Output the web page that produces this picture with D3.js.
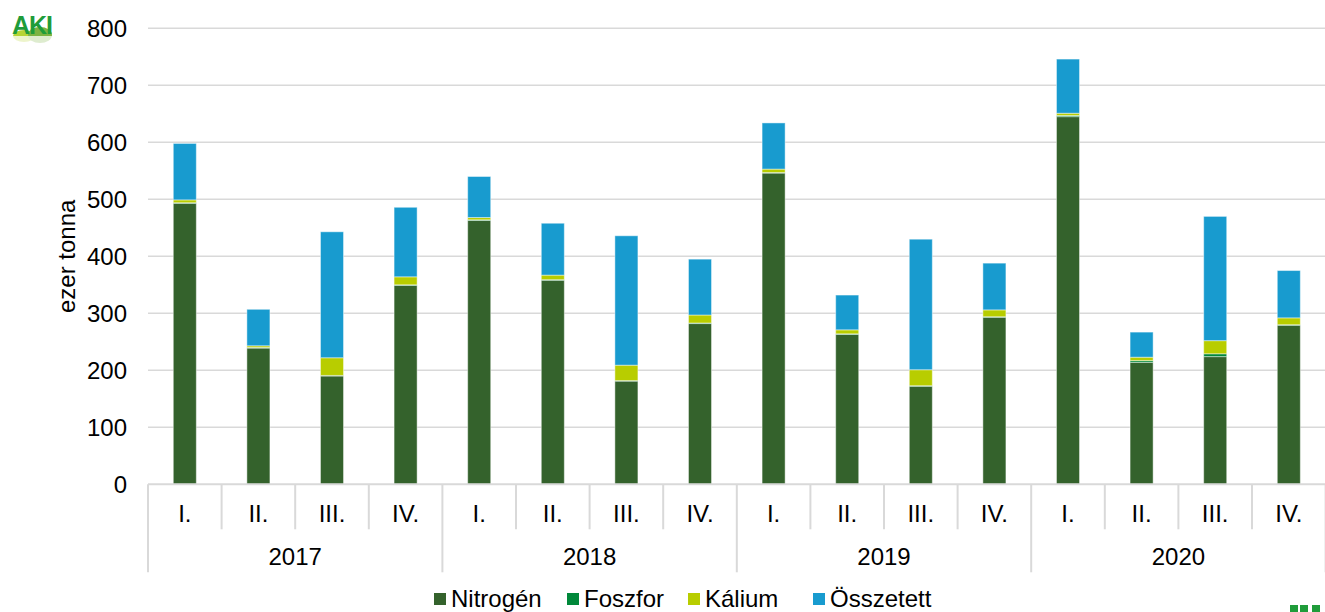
<!DOCTYPE html>
<html>
<head>
<meta charset="utf-8">
<script src="https://cdn.jsdelivr.net/npm/d3@7"></script>
<style>
  body { margin: 0; background: #fff; }
  svg { display: block; font-family: Arial, 'Liberation Sans', sans-serif; }
  .grid line { stroke: #d9d9d9; stroke-width: 1.5; }
  .axis-text { font-size: 24px; fill: #000; }
</style>
</head>
<body>
<div id="chart"></div>
<script>
// quarters and years on the category axis
const years = ['2017', '2018', '2019', '2020'];
const quarters = ['I.', 'II.', 'III.', 'IV.'];

// ezer tonna, one value per quarter 2017 I. .. 2020 IV.
const nitrogen = [493, 239, 190, 349, 463, 358, 181, 282, 546, 263, 172, 293, 645, 214, 224, 279];
const phosphorus = [1, 1, 1, 1, 1, 1, 1, 1, 1, 1, 1, 1, 2, 3, 5, 1];
const potassium = [5, 3, 31, 14, 4, 8, 27, 14, 6, 7, 28, 12, 4, 6, 23, 12];
const compound = [99, 64, 221, 122, 72, 91, 227, 98, 81, 61, 229, 82, 95, 44, 218, 83];

const seriesNames = ['Nitrogén', 'Foszfor', 'Kálium', 'Összetett'];
const yTicks = [0, 100, 200, 300, 400, 500, 600, 700, 800];

class StackedBarChart {
  constructor(_config) {
    this.config = {
      parentElement: _config.parentElement,
      containerWidth: 1325,
      containerHeight: 612,
      margin: { top: 28.3, left: 148, right: -0.6, bottom: 127.7 },
      colors: ['#34622c', '#00883a', '#b8cd00', '#189bcf'],
    };
    this.initVis();
  }

  initVis() {
    const vis = this;
    const m = vis.config.margin;
    vis.width = vis.config.containerWidth - m.left - m.right;
    vis.height = vis.config.containerHeight - m.top - m.bottom;

    vis.svg = d3.select(vis.config.parentElement).append('svg')
      .attr('width', vis.config.containerWidth)
      .attr('height', vis.config.containerHeight);

    vis.chartArea = vis.svg.append('g')
      .attr('transform', `translate(${m.left},${m.top})`);

    vis.data = [];
    years.forEach((y, yi) => quarters.forEach((q, qi) => {
      const i = yi * 4 + qi;
      vis.data.push({
        key: i, year: y, quarter: q,
        'Nitrogén': nitrogen[i], 'Foszfor': phosphorus[i],
        'Kálium': potassium[i], 'Összetett': compound[i],
      });
    }));

    vis.xScale = d3.scaleBand()
      .domain(vis.data.map(d => d.key))
      .range([0, vis.width]);
    vis.yScale = d3.scaleLinear()
      .domain([0, 800])
      .range([vis.height, 0]);
    vis.colorScale = d3.scaleOrdinal()
      .domain(seriesNames)
      .range(vis.config.colors);

    vis.renderVis();
  }

  renderVis() {
    const vis = this;
    const step = vis.xScale.step();
    const barW = step * 0.313;

    // gridlines
    vis.chartArea.append('g')
      .attr('class', 'grid')
      .selectAll('line')
      .data(yTicks.slice(1))
      .join('line')
      .attr('x1', 0)
      .attr('x2', vis.width)
      .attr('y1', d => vis.yScale(d))
      .attr('y2', d => vis.yScale(d));

    // y tick labels
    vis.chartArea.append('g')
      .selectAll('text')
      .data(yTicks)
      .join('text')
      .attr('class', 'axis-text')
      .attr('x', -21)
      .attr('y', d => vis.yScale(d))
      .attr('dy', '0.36em')
      .attr('text-anchor', 'end')
      .text(d => d);

    vis.svg.append('text')
      .attr('class', 'axis-text')
      .attr('transform', `translate(75,${vis.config.margin.top + vis.yScale(400)}) rotate(-90)`)
      .attr('text-anchor', 'middle')
      .text('ezer tonna');

    // stacked bars
    const stack = d3.stack().keys(seriesNames)(vis.data);
    vis.chartArea.append('g')
      .selectAll('g')
      .data(stack)
      .join('g')
      .attr('fill', d => vis.colorScale(d.key))
      .selectAll('rect')
      .data(d => d)
      .join('rect')
      .attr('x', d => vis.xScale(d.data.key) + (step - barW) / 2)
      .attr('width', barW)
      .attr('y', d => vis.yScale(d[1]))
      .attr('height', d => vis.yScale(d[0]) - vis.yScale(d[1]))
      .attr('stroke', '#ffffff')
      .attr('stroke-opacity', 0.45)
      .attr('stroke-width', 1);

    // category axis
    const axisG = vis.chartArea.append('g')
      .attr('transform', `translate(0,${vis.height})`);
    axisG.append('line')
      .attr('x1', 0).attr('x2', vis.width)
      .attr('stroke', '#d9d9d9').attr('stroke-width', 2);
    axisG.selectAll('.sep')
      .data(d3.range(17))
      .join('line')
      .attr('class', 'sep')
      .attr('x1', i => i * step).attr('x2', i => i * step)
      .attr('y1', 0)
      .attr('y2', i => (i % 4 === 0 ? 88 : 45))
      .attr('stroke', '#d9d9d9').attr('stroke-width', 2);
    axisG.selectAll('.q')
      .data(vis.data)
      .join('text')
      .attr('class', 'axis-text q')
      .attr('x', d => vis.xScale(d.key) + step / 2)
      .attr('y', 29)
      .attr('dy', '0.36em')
      .attr('text-anchor', 'middle')
      .text(d => d.quarter);
    axisG.selectAll('.yr')
      .data(years)
      .join('text')
      .attr('class', 'axis-text yr')
      .attr('x', (d, i) => (i * 4 + 2) * step)
      .attr('y', 72)
      .attr('dy', '0.36em')
      .attr('text-anchor', 'middle')
      .text(d => d);

    // legend
    const legendX = [434, 567, 688, 813];
    const legend = vis.svg.append('g')
      .selectAll('g')
      .data(seriesNames)
      .join('g')
      .attr('transform', (d, i) => `translate(${legendX[i]},593)`);
    legend.append('rect')
      .attr('width', 12).attr('height', 12)
      .attr('fill', d => vis.colorScale(d));
    legend.append('text')
      .attr('class', 'axis-text')
      .attr('x', 17)
      .attr('y', 14)
      .text(d => d);

    // AKI logo
    const logo = vis.svg.append('g').attr('transform', 'translate(10,8)');
    logo.append('ellipse').attr('cx', 14).attr('cy', 28).attr('rx', 11).attr('ry', 6).attr('fill', '#b7d433');
    logo.append('ellipse').attr('cx', 30).attr('cy', 27).attr('rx', 12).attr('ry', 8).attr('fill', '#7cb342');
    logo.append('rect').attr('x', 0).attr('y', 28).attr('width', 52).attr('height', 12).attr('fill', '#fff').attr('opacity', 0.75);
    logo.append('text')
      .attr('x', 2).attr('y', 26)
      .attr('font-size', 25).attr('font-weight', 'bold')
      .attr('fill', '#1f9c3a')
      .attr('letter-spacing', -1)
      .text('AKI');
    // logo corner peeking in at the bottom right
    vis.svg.append('g').attr('fill', '#1f9c3a')
      .selectAll('rect')
      .data([1290, 1300, 1312])
      .join('rect')
      .attr('x', d => d).attr('y', 605)
      .attr('width', 8).attr('height', 7);
  }
}

new StackedBarChart({ parentElement: '#chart' });
</script>
</body>
</html>
